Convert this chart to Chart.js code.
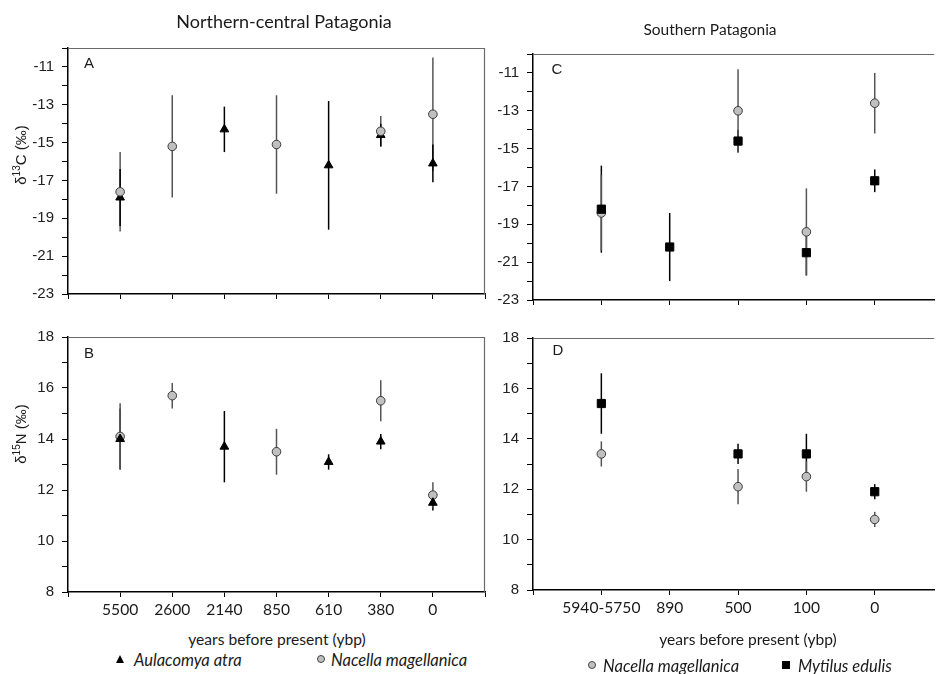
<!DOCTYPE html>
<html>
<head>
<meta charset="utf-8">
<script src="https://cdn.jsdelivr.net/npm/chart.js@4.4.0/dist/chart.umd.min.js"></script>
<style>
  body { margin: 0; background: #fff; width: 941px; height: 674px; overflow: hidden; position: relative; font-family: "Liberation Sans", Arial, sans-serif; color: #1a1a1a; }
  canvas { position: absolute; }
  .t { position: absolute; white-space: nowrap; transform: translate(-50%, -50%); }
  .l { position: absolute; white-space: nowrap; transform: translateY(-50%); }
  .lato { font-family: Lato, sans-serif; }
  .rot { transform: translate(-50%, -50%) rotate(-90deg); font-size: 15px; }
  .rot sup { font-size: 10px; }
  .letter { font-size: 15px; }
  .leg { font-family: Lato, sans-serif; font-style: italic; font-size: 16.5px; }
  .tri { position: absolute; width: 0; height: 0; border-left: 4px solid transparent; border-right: 4px solid transparent; border-bottom: 8px solid #000; transform: translate(-50%, -50%); }
  .dot { position: absolute; width: 6px; height: 6px; border-radius: 50%; background: #c0c0c0; border: 1px solid #444; transform: translate(-50%, -50%); }
  .sq { position: absolute; width: 8px; height: 8px; background: #000; transform: translate(-50%, -50%); }
</style>
</head>
<body>
<canvas id="chartA" style="left:0;top:31px" width="491" height="280"></canvas>
<canvas id="chartB" style="left:0;top:320px" width="491" height="310"></canvas>
<canvas id="chartC" style="left:470px;top:37px" width="471" height="280"></canvas>
<canvas id="chartD" style="left:470px;top:321px" width="471" height="310"></canvas>

<div class="t lato" style="left:284px;top:21px;font-size:18px">Northern-central Patagonia</div>
<div class="t lato" style="left:710px;top:29px;font-size:15.5px">Southern Patagonia</div>

<div class="t letter" style="left:89px;top:62px">A</div>
<div class="t letter" style="left:89px;top:352px">B</div>
<div class="t letter" style="left:557px;top:68px">C</div>
<div class="t letter" style="left:558px;top:349px">D</div>

<div class="t rot" style="left:20px;top:155px">δ<sup>13</sup>C (‰)</div>
<div class="t rot" style="left:20px;top:434px">δ<sup>15</sup>N (‰)</div>

<div class="t lato" style="left:277px;top:639px;font-size:15.6px">years before present (ybp)</div>
<div class="t lato" style="left:748px;top:639px;font-size:15.6px">years before present (ybp)</div>

<span class="tri" style="left:120px;top:659px"></span>
<div class="l leg" style="left:134px;top:660px">Aulacomya atra</div>
<span class="dot" style="left:321px;top:659px"></span>
<div class="l leg" style="left:331px;top:660px">Nacella magellanica</div>

<span class="dot" style="left:592px;top:665px"></span>
<div class="l leg" style="left:603px;top:666px">Nacella magellanica</div>
<span class="sq" style="left:786px;top:665px"></span>
<div class="l leg" style="left:798px;top:666px">Mytilus edulis</div>

<script>
// categories (x axis)
const northYears = ['5500', '2600', '2140', '850', '610', '380', '0'];
const southYears = ['5940-5750', '890', '500', '100', '0'];

// panel A: d13C, northern-central Patagonia
const aulacomyaC = [-17.9, null, -14.3, null, -16.2, -14.6, -16.1];
const aulacomyaCErr = [1.5, null, 1.2, null, 3.4, 0.6, 1.0];
const nacellaNorthC = [-17.6, -15.2, null, -15.1, null, -14.4, -13.5];
const nacellaNorthCErr = [2.1, 2.7, null, 2.6, null, 0.8, 3.0];

// panel B: d15N, northern-central Patagonia
const aulacomyaN = [14.0, null, 13.7, null, 13.1, 13.9, 11.5];
const aulacomyaNErr = [1.2, null, 1.4, null, 0.3, 0.3, 0.3];
const nacellaNorthN = [14.1, 15.7, null, 13.5, null, 15.5, 11.8];
const nacellaNorthNErr = [1.3, 0.5, null, 0.9, null, 0.8, 0.5];

// panel C: d13C, southern Patagonia
const nacellaSouthC = [-18.4, null, -13.0, -19.4, -12.6];
const nacellaSouthCErr = [2.0, null, 2.2, 2.3, 1.6];
const mytilusC = [-18.2, -20.2, -14.6, -20.5, -16.7];
const mytilusCErr = [2.3, 1.8, 0.6, 1.2, 0.6];

// panel D: d15N, southern Patagonia
const nacellaSouthN = [13.4, null, 12.1, 12.5, 10.8];
const nacellaSouthNErr = [0.5, null, 0.7, 0.6, 0.3];
const mytilusN = [15.4, null, 13.4, 13.4, 11.9];
const mytilusNErr = [1.2, null, 0.4, 0.8, 0.3];

Chart.defaults.font.family = '"Liberation Sans", Arial, sans-serif';
Chart.defaults.font.size = 15;
Chart.defaults.color = '#222';

// vertical error bars, drawn under the markers
const errorBars = {
  id: 'errorBars',
  beforeDatasetsDraw(chart) {
    const { ctx, scales: { x, y } } = chart;
    chart.data.datasets.forEach(ds => {
      ctx.save();
      ctx.strokeStyle = ds.errorColor;
      ctx.lineWidth = 1.5;
      ds.data.forEach((p, i) => {
        const e = ds.errors[i];
        if (p.y == null || !e) return;
        const px = x.getPixelForValue(p.x);
        ctx.beginPath();
        ctx.moveTo(px, y.getPixelForValue(p.y + e));
        ctx.lineTo(px, y.getPixelForValue(p.y - e));
        ctx.stroke();
      });
      ctx.restore();
    });
  }
};

// grey top / right frame lines
const frame = {
  id: 'frame',
  afterDraw(chart, args, opts) {
    const { ctx, chartArea: a } = chart;
    ctx.save();
    ctx.strokeStyle = '#6a6a6a';
    ctx.lineWidth = 1.2;
    ctx.beginPath();
    ctx.moveTo(a.left, a.top + 0.5);
    ctx.lineTo(a.right, a.top + 0.5);
    if (opts.right) {
      ctx.moveTo(a.right - 0.5, a.top);
      ctx.lineTo(a.right - 0.5, a.bottom);
    }
    ctx.stroke();
    ctx.restore();
  }
};

const styles = {
  triangle: { pointStyle: 'triangle', pointRadius: 5, backgroundColor: '#000', borderColor: '#000', borderWidth: 1, errorColor: '#000' },
  circle: { pointStyle: 'circle', pointRadius: 4.3, backgroundColor: '#c0c0c0', borderColor: '#3a3a3a', borderWidth: 1, errorColor: '#555' },
  square: { pointStyle: 'rect', pointRadius: 5.8, backgroundColor: '#000', borderColor: '#000', borderWidth: 1, errorColor: '#000' }
};

function series(label, values, errors, style) {
  return Object.assign({
    label: label,
    data: values.map((v, i) => ({ x: i + 1, y: v })),
    errors: errors
  }, styles[style]);
}

function panel(id, cats, datasets, o) {
  new Chart(document.getElementById(id), {
    type: 'scatter',
    data: { datasets: datasets },
    plugins: [errorBars, frame],
    options: {
      responsive: false,
      animation: false,
      events: [],
      layout: { padding: { top: 10, right: o.padRight, left: 0, bottom: 0 } },
      plugins: { legend: { display: false }, tooltip: { enabled: false }, frame: { right: o.rightFrame } },
      scales: {
        x: {
          type: 'linear',
          min: 0,
          max: o.xMax,
          afterFit: s => { s.height = o.xHeight; },
          border: { color: '#000', width: 1.5 },
          grid: { drawOnChartArea: false, drawTicks: true, tickLength: 5, color: '#000' },
          ticks: {
            stepSize: 1,
            includeBounds: false,
            autoSkip: false,
            maxRotation: 0,
            padding: 4,
            color: '#1a1a1a',
            font: { family: 'Lato', size: 15.6 },
            callback: v => (o.showX && cats[v - 1] !== undefined) ? cats[v - 1] : ''
          }
        },
        y: {
          min: o.yMin,
          max: o.yMax,
          afterFit: s => { s.width = o.yWidth; },
          border: { color: '#000', width: 1.5 },
          grid: { drawOnChartArea: false, drawTicks: true, tickLength: 6, color: '#000' },
          ticks: {
            stepSize: 1,
            autoSkip: false,
            padding: 8,
            callback: v => (Math.abs(v % 2) === o.labelParity ? String(v) : '')
          }
        }
      }
    }
  });
}

panel('chartA', northYears, [
  series('Nacella magellanica', nacellaNorthC, nacellaNorthCErr, 'circle'),
  series('Aulacomya atra', aulacomyaC, aulacomyaCErr, 'triangle')
], { xMax: 8, xHeight: 9, yWidth: 68, padRight: 3, rightFrame: true, showX: false, yMin: -23, yMax: -10, labelParity: 1 });

panel('chartB', northYears, [
  series('Aulacomya atra', aulacomyaN, aulacomyaNErr, 'triangle'),
  series('Nacella magellanica', nacellaNorthN, nacellaNorthNErr, 'circle')
], { xMax: 8, xHeight: 38, yWidth: 68, padRight: 3, rightFrame: true, showX: true, yMin: 8, yMax: 18, labelParity: 0 });

panel('chartC', southYears, [
  series('Mytilus edulis', mytilusC, mytilusCErr, 'square'),
  series('Nacella magellanica', nacellaSouthC, nacellaSouthCErr, 'circle')
], { xMax: 5.87, xHeight: 10, yWidth: 63, padRight: 0, rightFrame: false, showX: false, yMin: -23, yMax: -10, labelParity: 1 });

panel('chartD', southYears, [
  series('Mytilus edulis', mytilusN, mytilusNErr, 'square'),
  series('Nacella magellanica', nacellaSouthN, nacellaSouthNErr, 'circle')
], { xMax: 5.87, xHeight: 41, yWidth: 63, padRight: 0, rightFrame: false, showX: true, yMin: 8, yMax: 18, labelParity: 0 });
</script>
</body>
</html>
